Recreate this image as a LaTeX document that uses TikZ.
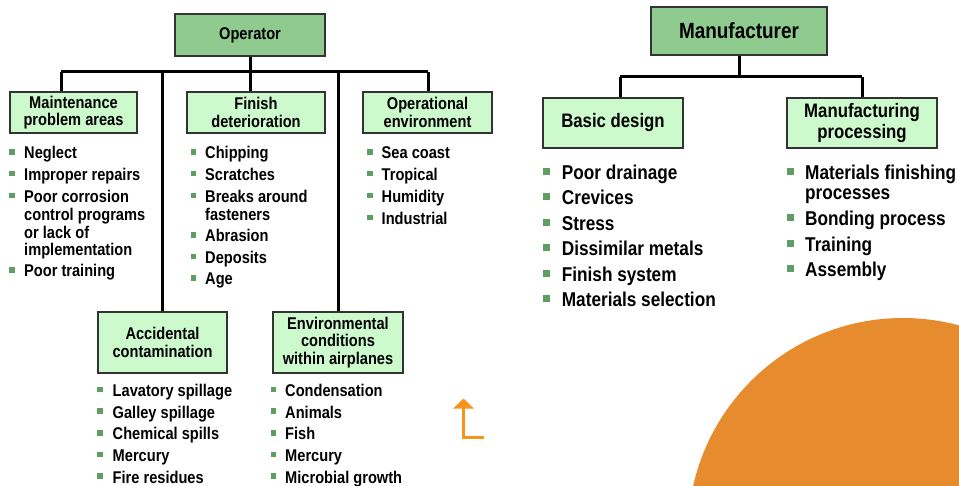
\documentclass[tikz,border=0pt]{standalone}
\usepackage{fontspec}
\setmainfont{Liberation Sans}[FakeStretch=0.86]
\usetikzlibrary{arrows.meta}
\definecolor{dkgreen}{HTML}{8FCB8F}
\definecolor{ltgreen}{HTML}{CCFACC}
\definecolor{bulgreen}{HTML}{5E9E62}
\definecolor{orangeC}{HTML}{E68C2F}
\definecolor{orangeA}{HTML}{F7941D}
\tikzset{
  conn/.style={line width=3pt, black},
  topbox/.style={draw=black!80, line width=1.3pt, fill=dkgreen, inner sep=0pt, align=center},
  subbox/.style={draw=black!80, line width=1.3pt, fill=ltgreen, inner sep=0pt, align=center},
  fL/.style={font=\bfseries\fontsize{17}{17.5}\selectfont},
  fR/.style={font=\bfseries\fontsize{19.5}{20.5}\selectfont},
  itmL/.style={anchor=base west, inner sep=0pt, font=\bfseries\fontsize{17}{18}\selectfont},
  itmR/.style={anchor=base west, inner sep=0pt, font=\bfseries\fontsize{20}{21}\selectfont},
  bsqL/.style={fill=bulgreen, minimum size=5.5pt, inner sep=0pt},
  bsqR/.style={fill=bulgreen, minimum size=7pt, inner sep=0pt},
}
% name, square x, text x, baseline y, text
\newcommand\bulL[5]{\node[bsqL] (#1b) at (#2,#4-7) {}; \node[itmL] (#1) at (#3,#4) {#5};}
\newcommand\conL[4]{\node[itmL] (#1) at (#2,#3) {#4};}
\newcommand\bulR[5]{\node[bsqR] (#1b) at (#2,#4-8) {}; \node[itmR] (#1) at (#3,#4) {#5};}
\newcommand\conR[4]{\node[itmR] (#1) at (#2,#3) {#4};}
\begin{document}
\begin{tikzpicture}[x=1pt,y=-1pt]
\useasboundingbox (0,0) rectangle (959,486);
\fill[white] (0,0) rectangle (959,486);
% orange circle
\begin{scope}
\clip (0,0) rectangle (959,486);
\fill[orangeC] (903,533) circle[radius=215pt];
\end{scope}

% ---------- Operator tree ----------
\node[topbox, fL, minimum width=150pt, minimum height=42pt] (op) at (250,35) {Operator};
\node[subbox, fL, minimum width=127pt, minimum height=41pt] (mnt) at (73.5,112.5) {Maintenance\\problem areas};
\node[subbox, fL, minimum width=138pt, minimum height=41pt] (fin) at (256,112.5) {Finish\\deterioration};
\node[subbox, fL, minimum width=129pt, minimum height=41pt] (opr) at (427.5,112.5) {Operational\\environment};
\node[subbox, fL, minimum width=129pt, minimum height=61pt] (acc) at (162.5,342.5) {Accidental\\contamination};
\node[subbox, fL, minimum width=130pt, minimum height=61pt] (env) at (338,342.5) {Environmental\\conditions\\within airplanes};

\coordinate (jA) at (61,72);
\coordinate (jB) at (162.5,72);
\coordinate (jC) at (250,72);
\coordinate (jD) at (338,72);
\coordinate (jE) at (428,72);
\draw[conn] (op.south) -- (jC);
\draw[conn] (jA) -- (jE);
\draw[conn] (jA) -- (jA |- mnt.north);
\draw[conn] (jC) -- (jC |- fin.north);
\draw[conn] (jE) -- (jE |- opr.north);
\draw[conn] (jB) -- (acc.north);
\draw[conn] (jD) -- (env.north);

% maintenance items
\bulL{m1}{12}{24}{159}{Neglect}
\bulL{m2}{12}{24}{180.7}{Improper repairs}
\bulL{m3}{12}{24}{202.7}{Poor corrosion}
\conL{m3b}{24}{220.5}{control programs}
\conL{m3c}{24}{238.3}{or lack of}
\conL{m3d}{24}{256}{implementation}
\bulL{m4}{12}{24}{277}{Poor training}
% finish items
\bulL{f1}{193.5}{205}{159}{Chipping}
\bulL{f2}{193.5}{205}{180.7}{Scratches}
\bulL{f3}{193.5}{205}{202.7}{Breaks around}
\conL{f3b}{205}{220.5}{fasteners}
\bulL{f4}{193.5}{205}{242}{Abrasion}
\bulL{f5}{193.5}{205}{263.5}{Deposits}
\bulL{f6}{193.5}{205}{285}{Age}
% operational items
\bulL{o1}{370}{381.5}{159}{Sea coast}
\bulL{o2}{370}{381.5}{180.7}{Tropical}
\bulL{o3}{370}{381.5}{202.7}{Humidity}
\bulL{o4}{370}{381.5}{224.5}{Industrial}
% accidental items
\bulL{a1}{100}{112.5}{396.7}{Lavatory spillage}
\bulL{a2}{100}{112.5}{418.2}{Galley spillage}
\bulL{a3}{100}{112.5}{439.8}{Chemical spills}
\bulL{a4}{100}{112.5}{461.4}{Mercury}
\bulL{a5}{100}{112.5}{483}{Fire residues}
% environmental items
\bulL{e1}{273.5}{285}{396.7}{Condensation}
\bulL{e2}{273.5}{285}{418.2}{Animals}
\bulL{e3}{273.5}{285}{439.8}{Fish}
\bulL{e4}{273.5}{285}{461.4}{Mercury}
\bulL{e5}{273.5}{285}{483}{Microbial growth}

% orange arrow
\draw[orangeA, line width=3pt, -{Triangle[width=20pt,length=10pt]}] (484,437.5) -- (463.5,437.5) -- (463.5,398.5);

% ---------- Manufacturer tree ----------
\node[topbox, font=\bfseries\fontsize{22}{23}\selectfont, minimum width=176pt, minimum height=48pt] (man) at (739,31) {Manufacturer};
\node[subbox, fR, minimum width=140pt, minimum height=50pt] (bas) at (613,123) {Basic design};
\node[subbox, fR, minimum width=150pt, minimum height=50pt] (mpr) at (862,123) {Manufacturing\\processing};
\coordinate (kC) at (739,77);
\coordinate (kA) at (620,77);
\coordinate (kB) at (862,77);
\draw[conn] (man.south) -- (kC);
\draw[conn] (kA) -- (kB);
\draw[conn] (kA) -- (kA |- bas.north);
\draw[conn] (kB) -- (mpr.north);

\bulR{b1}{546.7}{561.7}{179.3}{Poor drainage}
\bulR{b2}{546.7}{561.7}{204.8}{Crevices}
\bulR{b3}{546.7}{561.7}{230.3}{Stress}
\bulR{b4}{546.7}{561.7}{255.8}{Dissimilar metals}
\bulR{b5}{546.7}{561.7}{281.3}{Finish system}
\bulR{b6}{546.7}{561.7}{306.8}{Materials selection}

\bulR{p1}{790}{805}{179.3}{Materials finishing}
\conR{p1b}{805}{200}{processes}
\bulR{p2}{790}{805}{225.7}{Bonding process}
\bulR{p3}{790}{805}{251.2}{Training}
\bulR{p4}{790}{805}{276.7}{Assembly}
\end{tikzpicture}
\end{document}
